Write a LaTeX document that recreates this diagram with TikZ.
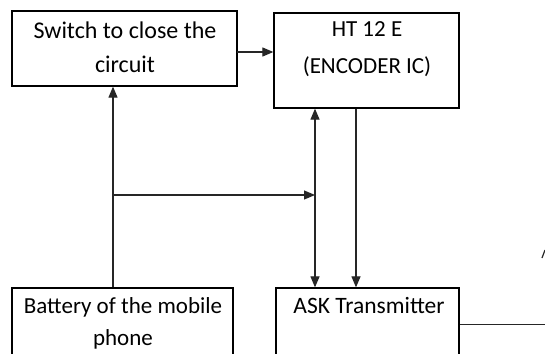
\documentclass[tikz,border=0pt]{standalone}
\usepackage{fontspec}
\setmainfont{Carlito}
\usetikzlibrary{arrows.meta,calc}
\begin{document}
\begin{tikzpicture}[x=1pt,y=-1pt,
  box/.style={draw=black,line width=1.3pt,rectangle,inner sep=0pt},
  txt/.style={inner sep=0pt,align=center,text=black},
  wire/.style={draw=black!85,line width=1.2pt},
  tip/.tip={Triangle[length=11pt,width=9pt]},
  arr/.style={wire,-tip},
  darr/.style={wire,tip-tip}]
\useasboundingbox (0,0) rectangle (545,353);
\clip (0,0) rectangle (545,353);
\fill[white] (0,0) rectangle (545,353);
% boxes
\node[box,minimum width=225pt,minimum height=75pt] (sw) at (124.5,48.5) {};
\node[box,minimum width=185pt,minimum height=95pt] (ht) at (366.5,60.5) {};
\node[box,minimum width=221pt,minimum height=120pt] (bat) at (122.5,348) {};
\node[box,minimum width=183pt,minimum height=120pt] (ask) at (367.5,348) {};
% texts
\node[txt,font=\fontsize{24}{33}\selectfont,anchor=base] (swt) at (125,72) {Switch to close the\\circuit};
\node[txt,font=\fontsize{23}{36}\selectfont,anchor=base] (htt) at (367,73) {HT 12 E\\(ENCODER IC)};
\node[txt,font=\fontsize{23}{32}\selectfont,anchor=base] (batt) at (123,345) {Battery of the mobile\\phone};
\node[txt,font=\fontsize{23.5}{32}\selectfont,anchor=base] (askt) at (369,313) {ASK Transmitter};
% helper coordinates
\coordinate (j) at (113,195);
\coordinate (p) at (315,195);
\coordinate (q) at (356,195);
\coordinate (out) at (545,324.5);
\coordinate (a) at (237,52);
% connectors
\draw[arr] (a) -- (a -| ht.west);
\draw[arr] (bat.north -| j) -- (sw.south -| j);
\draw[arr] (j) -- (p);
\draw[darr] (ht.south -| p) -- (ask.north -| p);
\draw[arr] (ht.south -| q) -- (ask.north -| q);
\draw[wire] (ask.east |- out) -- (out);
\draw[wire] (542,258) -- (545,250);
\end{tikzpicture}
\end{document}
